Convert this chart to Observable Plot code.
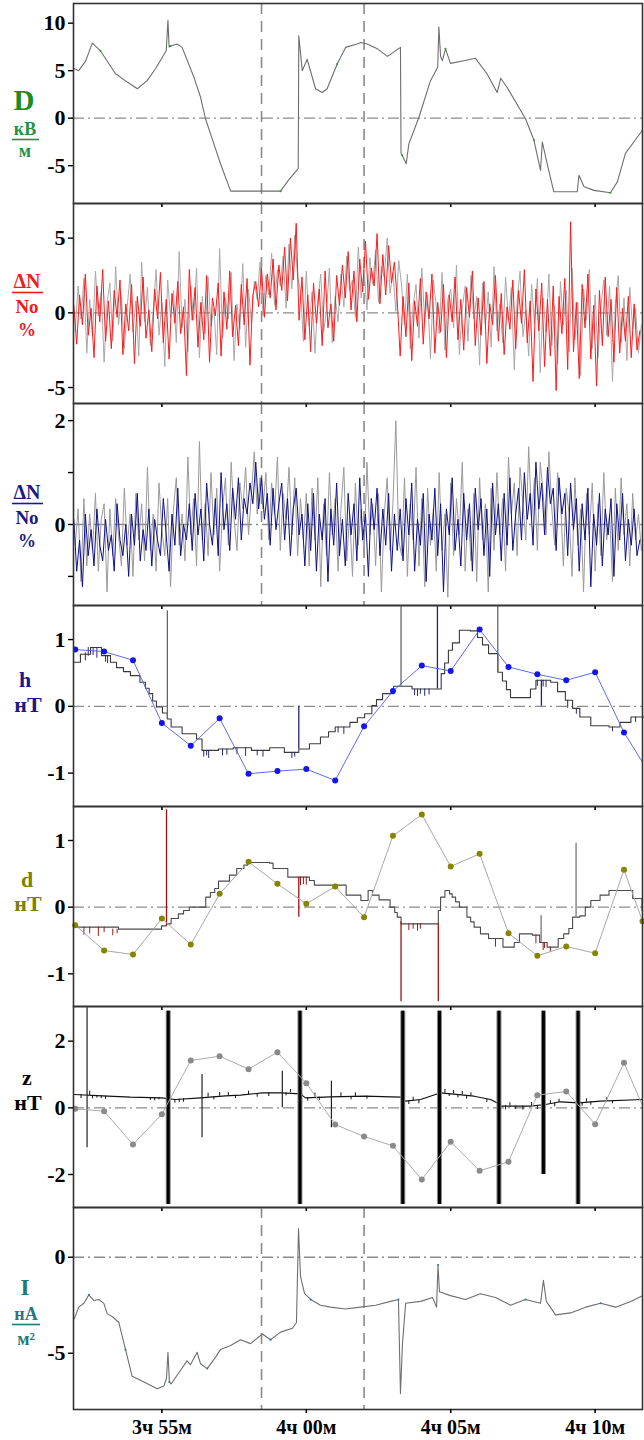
<!DOCTYPE html>
<html><head><meta charset="utf-8">
<script src="https://cdn.jsdelivr.net/npm/d3@7"></script>
<script src="https://cdn.jsdelivr.net/npm/@observablehq/plot@0.6"></script>
<style>
body{margin:0;background:#fff;}
#wrap{position:relative;width:644px;height:1440px;overflow:hidden;background:#fff;}
#labels{position:absolute;left:0;top:0;}
</style></head><body><div id="wrap"></div>
<script>
// ---- time axis (minutes after 3h) ----
const xDomain = [51.94, 71.64];
const xTicks = [55, 60, 65, 70];
const xTickLabels = ["3ч 55м", "4ч 00м", "4ч 05м", "4ч 10м"];
const dashedTimes = [58.45, 62.0];

// ---- D, кВ/м ----
const dT = [51.975,52.12,52.36,52.59,52.87,53.39,53.80,54.15,54.49,54.78,55.15,55.21,55.25,55.30,55.53,55.70,56.11,56.34,56.51,56.80,57.03,57.38,59.11,59.39,59.72,59.74,59.86,60.03,60.32,60.55,60.72,61.07,61.36,61.76,61.88,62.11,62.46,62.81,63.26,63.28,63.32,63.46,63.55,63.90,64.30,64.55,64.59,64.65,64.71,64.82,64.99,65.45,65.86,66.26,66.61,66.73,66.96,67.59,67.88,68.11,68.17,68.34,68.57,69.38,69.44,69.61,69.96,70.53,70.77,71.05,71.63];
const dV = [5.2,5.0,6.0,7.9,7.1,4.7,3.8,3.1,3.95,5.2,7.1,10.3,7.5,7.6,7.8,7.45,4.3,2.2,-0.06,-2.7,-4.8,-7.68,-7.68,-6.5,-5.3,8.67,5.0,6.2,3.1,2.7,3.1,5.7,7.45,7.8,7.97,7.8,7.3,6.5,7.45,-3.7,-3.9,-4.8,-2.7,0.1,3.95,5.35,9.6,6.5,6.05,7.3,5.77,6.05,6.3,4.65,2.7,4.2,3.2,-0.06,-2.3,-5.5,-2.5,-4.8,-7.75,-7.75,-6.0,-7.2,-7.6,-7.85,-6.7,-3.7,-1.3];

// ---- ΔN/No (red panel), %, sampled every 0.1 min from 51.95 ----
const dnRed = [0.5,-2.1,1.2,-0.8,2.6,-1.5,0.3,-3.0,1.8,-0.6,2.9,-1.9,0.8,-2.4,1.5,-0.3,2.2,-2.8,0.6,-1.2,1.9,-3.4,1.1,-0.9,2.4,-1.7,0.2,-2.6,1.6,-0.4,2.7,-2.0,0.9,-3.1,1.3,-0.7,2.1,-1.4,0.4,-4.2,2.9,-0.5,1.7,-2.3,0.7,-1.8,2.5,-3.3,1.0,-0.2,2.0,-2.9,1.4,-1.1,2.8,-1.6,0.5,-2.2,1.9,-0.8,2.3,-3.5,1.2,
 2.1,0.4,3.0,-0.3,2.6,1.0,3.6,0.2,3.2,1.5,4.4,0.8,5.0,2.2,6.0,
 -0.5,2.4,-1.8,1.2,-2.6,2.0,-0.7,1.6,-2.2,2.8,-1.0,0.6,-1.9,2.5,
 0.5,3.2,1.0,4.1,0.2,2.8,-0.6,3.6,1.4,4.8,0.9,3.0,1.8,5.3,0.6,3.9,1.2,4.5,2.0,3.4,0.8,
 -2.9,1.1,-1.6,2.0,-3.2,0.8,-0.9,2.3,-2.1,1.4,-0.4,2.6,-2.7,0.7,-1.3,1.9,-3.0,1.2,-0.6,2.4,-1.8,0.9,-2.5,1.7,-0.3,2.8,-2.2,1.0,-1.5,2.1,-3.4,0.6,-0.8,2.5,-1.9,1.3,-2.8,0.4,-1.1,2.2,-2.4,1.5,-0.7,2.9,-2.0,0.8,-4.6,1.6,-1.2,2.0,-3.6,0.9,-2.9,1.8,-5.2,1.1,-1.4,2.3,-3.8,6.1,-2.6,0.7,-4.4,1.9,-1.0,2.6,-3.1,0.5,-4.9,1.5,-2.2,2.4,-1.6,0.9,-3.3,1.7,-2.7,0.3,-1.9,1.1,-3.0,0.6,-2.5,-1.2];
const dnRedGrey = [-1.2,1.8,-0.4,2.3,-2.7,0.9,-1.6,2.8,-0.2,1.4,-3.3,0.6,2.0,-1.9,3.1,-0.8,1.2,-2.4,0.4,2.6,-1.3,0.8,-2.9,3.4,-0.6,1.7,-2.2,0.1,2.9,-1.5,0.7,-3.6,2.2,-0.3,1.5,-2.0,4.1,-1.0,0.9,-2.6,1.8,-0.5,3.0,-3.0,1.1,-1.4,2.4,-0.9,0.3,-2.8,4.3,-1.7,1.0,-0.4,2.7,-3.2,0.6,-1.1,3.3,-2.3,1.6,-0.7,2.1,
 0.9,3.4,-0.2,2.5,1.2,4.0,0.5,2.9,1.8,3.8,0.3,4.6,1.6,5.2,2.4,
 1.5,-1.9,2.8,-0.9,1.4,-2.7,0.8,2.6,-1.3,0.2,3.0,-2.0,1.1,-0.6,
 2.6,0.4,3.8,1.5,2.2,-0.3,4.4,1.0,2.9,0.2,3.7,1.9,4.2,0.7,3.1,2.4,5.0,1.3,2.7,0.1,3.5,
 1.8,-0.8,2.6,-2.4,0.5,1.9,-1.7,3.0,-0.6,1.2,-3.1,2.2,0.4,-1.4,2.7,-2.5,0.9,1.6,-1.0,3.2,-2.8,0.3,1.8,-1.9,2.5,-0.4,1.1,-3.5,2.0,-0.9,1.4,-2.3,3.1,-1.2,0.6,-2.0,2.4,-0.5,1.7,-3.8,0.8,2.8,-1.6,0.2,-2.9,1.9,-0.7,2.3,-4.0,1.0,-1.3,2.6,-2.2,0.5,-3.4,2.1,-0.8,1.5,-2.6,3.0,-1.8,0.7,-4.2,1.6,-0.5,2.9,-2.4,1.2,-3.0,0.4,2.2,-1.5,1.8,-4.6,0.6,2.5,-2.0,1.0,-3.2,1.7,-1.1,0.3,-2.7,-0.8];

// ---- ΔN/No (blue panel), % ----
const dnBlue = [0.1,-0.9,-0.3,-1.2,0.2,-0.6,-0.1,-0.8,0.3,-0.4,-0.7,0.1,-0.5,-0.2,-0.9,0.4,-0.3,-0.6,0.0,-1.0,0.2,-0.4,0.6,-0.7,-0.1,-0.5,0.3,-0.8,0.1,-0.3,-0.6,0.5,-0.2,-0.9,0.2,-0.4,0.7,-0.6,0.0,-0.3,0.4,
 -0.5,0.6,-0.2,0.3,-0.7,0.8,0.0,-0.4,0.5,-0.6,1.0,-0.1,0.4,-0.5,0.7,0.1,0.9,-0.3,0.5,0.2,0.8,0.4,1.2,0.3,
 0.9,0.1,0.6,-0.4,0.7,-0.1,0.4,0.8,-0.3,0.5,-0.6,0.3,0.7,-0.2,0.2,-0.8,
 0.4,-0.5,0.6,-0.9,0.2,-0.3,0.5,-1.1,0.3,-0.4,0.8,-0.6,0.1,-0.8,0.6,-0.2,0.4,-0.7,0.9,-0.3,0.2,-1.0,0.5,-0.1,0.7,-0.6,0.3,-0.4,0.6,-0.9,0.2,-0.5,
 0.3,-0.7,0.5,-0.2,0.8,-0.9,0.1,-0.4,0.6,-1.1,0.2,-0.3,0.7,-0.6,0.4,-1.3,0.3,-0.2,0.9,-0.5,0.1,-0.8,0.6,-0.3,0.4,-0.9,0.7,-0.1,0.5,-0.6,0.3,-1.0,0.8,-0.2,0.4,-0.7,0.6,-0.4,0.9,-0.5,0.2,0.7,-0.3,1.0,0.1,0.6,-0.4,1.2,0.3,0.8,-0.2,1.1,0.4,0.7,-0.5,0.9,0.2,0.6,-0.6,0.8,-0.1,0.5,-0.9,0.4,-0.3,0.7,-1.2,0.2,-0.4,0.6,-0.8,0.3,-0.2,0.5,-1.0,0.4,-0.3,0.6,-0.7,0.1,-0.4,0.3,-0.6,-0.3];
const dnBlueGrey = [-0.4,0.3,-1.1,0.5,-0.8,0.2,-0.5,0.6,-0.9,0.1,0.4,-1.3,0.3,-0.6,0.5,-0.2,-0.8,0.7,-0.4,0.2,-1.0,0.6,-0.3,0.4,-0.7,1.1,-0.5,0.2,-0.9,0.8,-0.1,-0.6,0.5,-1.2,0.3,0.9,-0.4,0.2,-0.7,1.3,-0.2,
 0.5,-0.8,1.6,-0.3,0.4,-0.6,1.0,-0.2,0.7,-0.9,0.3,0.9,-0.4,1.2,0.1,-0.5,0.8,0.3,1.1,-0.2,0.6,1.4,0.2,0.9,
 0.3,1.0,-0.3,0.8,0.2,1.3,-0.5,0.6,0.1,1.1,-0.2,0.9,-0.6,0.5,-0.3,0.6,
 -0.8,0.7,-0.3,0.9,-1.2,0.4,-0.6,1.0,-0.2,0.5,-0.9,0.3,1.1,-0.7,0.2,-1.0,0.8,-0.4,0.3,-0.6,1.2,-0.2,0.4,-0.8,0.6,-1.3,0.2,0.9,-0.5,0.4,2.0,-0.3,
 -0.6,0.9,-1.0,0.4,-0.3,1.1,-0.8,0.5,-1.2,0.7,-0.4,0.3,-0.9,1.0,-0.5,0.2,-1.4,0.8,-0.6,0.5,-0.2,1.2,-0.9,0.3,-0.7,0.6,-1.1,0.9,-0.3,0.4,-1.3,0.7,-0.5,1.0,-0.2,0.5,-0.9,1.3,0.2,0.8,-0.6,1.1,0.4,-0.3,1.5,0.1,0.9,-0.5,1.2,0.6,-0.2,1.4,0.3,-0.4,1.0,0.5,-0.8,0.7,0.2,-1.0,0.9,-0.4,0.3,-1.3,0.6,-0.2,0.8,-0.9,0.4,-0.6,1.0,-0.3,0.2,-1.1,0.7,-0.5,0.9,-0.2,0.4,-0.8,0.6,-0.3,0.2,-0.5];
const dnT0 = 51.95, dnStep = 0.1;

// ---- h, нТ ----
const hStepT = [51.97,52.18,52.53,52.91,53.22,53.43,53.67,53.91,54.24,54.43,54.56,54.68,54.81,55.02,55.19,55.32,55.70,56.20,56.39,56.96,57.47,58.10,58.73,59.24,59.74,60.11,60.49,60.77,61.00,61.51,61.77,62.02,62.27,62.43,62.64,63.02,63.66,64.42,64.67,64.79,64.92,65.06,65.30,65.68,65.93,66.10,66.31,66.63,66.79,66.93,67.07,67.58,67.76,67.95,68.46,68.70,68.97,69.22,69.47,69.85,70.48,70.86,71.24,71.68];
const hStepV = [0.66,0.78,0.88,0.76,0.66,0.58,0.52,0.46,0.36,0.27,0.19,0.08,-0.01,-0.10,-0.19,-0.31,-0.41,-0.49,-0.66,-0.64,-0.62,-0.66,-0.62,-0.69,-0.64,-0.56,-0.46,-0.38,-0.31,-0.24,-0.17,-0.11,0.01,0.10,0.19,0.30,0.26,0.26,0.49,0.65,0.84,0.95,1.14,1.13,1.03,0.92,0.79,0.51,0.38,0.25,0.13,0.13,0.26,0.39,0.36,0.22,0.09,-0.03,-0.16,-0.29,-0.31,-0.24,-0.16,-0.16];
const hDotT = [52,53,54,55,56,57,58,59,60,61,62,63,64,65,66,67,68,69,70,71,72];
const hDotV = [0.85,0.82,0.69,-0.25,-0.59,-0.18,-1.01,-0.97,-0.94,-1.11,-0.30,0.23,0.61,0.53,1.15,0.59,0.48,0.39,0.51,-0.39,-1.09];
const hSpikeT = [55.19,59.74,63.28,64.54,66.63,68.14];
const hSpikeA = [-0.19,-0.64,0.30,0.26,0.51,0.39];
const hSpikeB = [1.43,0.0,1.5,1.5,1.5,0.0];
// small comb dips on the h staircase
const hCombT = [52.35,52.45,52.62,52.75,53.05,53.12,56.45,56.55,56.62,57.10,57.25,57.60,57.90,58.30,58.50,59.50,59.60,61.10,61.30,63.75,63.85,63.95,64.10,64.25,68.00,68.20,68.30,69.05,69.35,70.60,71.40];
const hCombA = [0.80,0.88,0.88,0.88,0.76,0.76,-0.66,-0.66,-0.66,-0.64,-0.64,-0.62,-0.62,-0.66,-0.66,-0.69,-0.69,-0.31,-0.31,0.26,0.26,0.26,0.26,0.26,0.39,0.39,0.39,0.09,-0.03,-0.31,-0.16];
const hCombB = [0.68,0.75,0.76,0.72,0.66,0.64,-0.76,-0.74,-0.78,-0.74,-0.73,-0.72,-0.75,-0.74,-0.76,-0.78,-0.76,-0.40,-0.42,0.16,0.15,0.18,0.15,0.17,0.30,0.29,0.28,-0.03,-0.12,-0.38,-0.24];

// ---- d, нТ ----
const dStepT = [51.97,53.5,54.99,55.16,55.32,55.57,55.75,55.95,56.52,56.68,56.83,56.96,57.34,57.59,57.84,57.97,58.73,58.85,59.36,60.11,60.28,61.00,61.38,61.89,62.14,62.29,62.52,62.90,63.06,63.15,63.28,64.42,64.57,64.65,64.80,64.96,65.05,65.17,65.30,65.56,65.69,65.81,66.03,66.31,66.81,67.20,67.38,67.83,68.08,68.34,68.72,68.91,69.09,69.22,69.47,69.66,69.85,70.17,70.48,71.12,71.30,71.62];
const dStepV = [-0.30,-0.33,-0.28,-0.25,-0.17,-0.10,-0.05,0.0,0.15,0.22,0.28,0.39,0.48,0.58,0.63,0.67,0.66,0.58,0.45,0.40,0.33,0.33,0.18,0.10,0.25,0.18,0.11,0.0,-0.08,-0.15,-0.25,-0.25,-0.05,0.15,0.25,0.20,0.15,0.08,0.0,-0.15,-0.22,-0.30,-0.40,-0.47,-0.60,-0.53,-0.40,-0.42,-0.53,-0.60,-0.47,-0.40,-0.32,-0.15,-0.13,0.0,0.10,0.18,0.25,0.25,0.13,-0.05];
const dDotT = [52,53,54,55,56,57,58,59,60,61,62,63,64,65,66,67,68,69,70,71,71.64];
const dDotV = [-0.27,-0.65,-0.71,-0.17,-0.56,0.20,0.68,0.35,0.05,0.31,-0.15,1.07,1.39,0.61,0.80,-0.39,-0.73,-0.59,-0.69,0.56,-0.21];
const dSpikeT = [55.16,59.74,63.28,64.57,68.13,69.34];
const dSpikeA = [-0.28,0.45,-0.22,-0.25,-0.53,-0.15];
const dSpikeB = [1.46,-0.15,-1.42,-1.42,-0.13,0.96];
const dCombT = [52.30,52.50,52.80,53.00,53.30,53.45,59.80,59.90,60.00,63.55,63.70,63.85,63.95,66.55,67.95,68.20,68.25,68.45];
const dCombA = [-0.30,-0.30,-0.30,-0.30,-0.33,-0.33,0.45,0.45,0.45,-0.25,-0.25,-0.25,-0.25,-0.60,-0.42,-0.53,-0.53,-0.60];
const dCombB = [-0.42,-0.40,-0.44,-0.38,-0.43,-0.40,0.32,0.34,0.33,-0.35,-0.33,-0.36,-0.33,-0.48,-0.55,-0.65,-0.62,-0.68];

// ---- z, нТ ----
const zBaseT = [51.97,52.94,53.91,54.99,55.47,56.34,57.20,57.72,58.48,59.14,59.80,59.97,60.84,62.02,63.26,63.44,63.96,64.65,65.81,66.38,66.66,66.73,67.76,68.28,68.80,69.43,70.19,71.64];
const zBaseV = [0.40,0.36,0.32,0.30,0.25,0.30,0.36,0.38,0.45,0.45,0.42,0.30,0.33,0.35,0.32,0.20,0.25,0.45,0.35,0.25,0.12,0.05,0.05,0.10,0.18,0.15,0.20,0.25];
const zDotT = [52,53,54,55,56,57,58,59,60,61,62,63,64,65,66,67,68,69,70,71,72];
const zDotV = [-0.03,-0.10,-1.10,-0.19,1.42,1.55,1.16,1.67,0.74,-0.50,-0.86,-1.14,-2.15,-1.02,-1.89,-1.62,0.38,0.49,-0.49,1.35,-0.65];
const zBurstT = [55.22,59.78,63.34,64.61,66.67,68.21,69.41];
const zBurstLo = [-2.9,-2.9,-2.9,-2.9,-2.9,-2.0,-2.9];
const zBurstHi = [2.9,2.9,2.9,2.9,2.9,2.9,2.9];
const zSpikeT = [52.41,56.39,59.17,60.87];
const zSpikeA = [-1.2,-0.9,0.0,-0.6];
const zSpikeB = [3.0,1.0,1.1,0.8];
const zCombT = [52.20,52.50,52.60,52.75,52.90,53.05,54.60,54.75,54.90,55.45,55.60,55.75,56.60,56.80,57.00,57.30,57.55,58.00,58.30,58.70,59.30,59.45,60.05,60.30,60.45,61.20,61.55,61.70,62.10,63.55,63.70,63.90,64.80,64.95,65.10,65.25,65.40,65.55,65.70,66.25,66.90,67.05,67.25,67.50,67.80,68.00,68.45,68.60,68.75,69.55,69.70,69.85,70.40,70.60];
const zCombA = [0.39,0.37,0.37,0.37,0.36,0.35,0.30,0.30,0.30,0.25,0.26,0.27,0.32,0.33,0.35,0.36,0.37,0.40,0.42,0.45,0.45,0.45,0.31,0.32,0.32,0.34,0.34,0.34,0.35,0.21,0.22,0.24,0.44,0.43,0.42,0.40,0.39,0.37,0.36,0.26,0.06,0.05,0.05,0.05,0.05,0.06,0.12,0.14,0.16,0.16,0.17,0.18,0.21,0.22];
const zCombB = [0.28,0.50,0.27,0.29,0.28,0.25,0.22,0.21,0.24,0.14,0.16,0.17,0.44,0.24,0.46,0.46,0.28,0.50,0.32,0.34,0.36,0.55,0.20,0.44,0.22,0.45,0.24,0.45,0.26,0.10,0.32,0.12,0.55,0.34,0.52,0.30,0.49,0.26,0.45,0.16,-0.06,0.15,-0.05,-0.07,0.16,-0.05,0.22,0.03,0.26,0.05,0.27,0.08,0.30,0.12];

// ---- I, нА/м² ----
const iT = [51.97,52.12,52.30,52.47,52.64,52.82,52.99,53.11,53.29,53.51,53.74,53.97,54.38,54.84,55.07,55.16,55.21,55.26,55.32,55.64,55.87,55.99,56.22,56.34,56.57,56.86,57.03,57.38,57.72,58.07,58.48,58.76,59.11,59.52,59.66,59.73,59.80,59.94,60.15,60.49,60.84,61.36,61.88,62.40,62.92,63.19,63.26,63.33,63.44,63.96,64.37,64.51,64.56,64.61,64.99,65.51,66.03,66.55,67.07,67.59,68.11,68.21,68.31,68.63,69.15,69.67,70.19,70.71,71.23,71.64];
const iV = [-3.2,-2.6,-2.4,-1.96,-2.25,-2.2,-2.4,-2.95,-3.1,-3.4,-4.8,-6.2,-6.5,-6.85,-6.7,-6.3,-4.95,-6.5,-6.6,-5.9,-5.4,-5.6,-4.95,-5.55,-5.8,-5.2,-4.8,-4.6,-4.3,-4.5,-4.0,-4.3,-3.9,-3.7,-3.4,1.5,-1.0,-1.9,-2.2,-2.5,-2.6,-2.7,-2.6,-2.5,-2.3,-2.2,-7.1,-4.5,-2.4,-2.3,-2.1,-2.6,-0.4,-1.8,-2.0,-2.2,-1.9,-2.1,-2.5,-2.2,-2.4,-1.2,-2.3,-3.0,-2.9,-2.6,-2.4,-2.6,-2.3,-2.0];

// ---------- helpers ----------
const zip = (ts, vs) => ts.map((t, i) => ({t, v: vs[i]}));
const seq = (vs, t0, dt) => vs.map((v, i) => ({t: t0 + i * dt, v}));
const spikes = (ts, as, bs) => ts.map((t, i) => ({t, a: as[i], b: bs[i]}));

const wrap = document.getElementById("wrap");
const FONT = "'Liberation Serif', 'Times New Roman', serif";

function panel({top, bottom, domain, ticks, tickFmt, marks, dashed, last}) {
  const mt = 2, mb = last ? 40 : 2;
  const svg = Plot.plot({
    width: 644, height: bottom - top + mt + mb,
    marginLeft: 73, marginRight: 2, marginTop: mt, marginBottom: mb,
    x: {domain: xDomain},
    y: {domain: domain},
    style: {background: "transparent", overflow: "visible", fontFamily: FONT, fontSize: "22px", fontWeight: "bold", color: "#000"},
    marks: [
      Plot.ruleY([0], {stroke: "#8c8c8c", strokeWidth: 1.3, strokeDasharray: "11,4,2,4"}),
      dashed ? Plot.ruleX(dashedTimes, {stroke: "#8a8a8a", strokeWidth: 1.6, strokeDasharray: "11,7"}) : null,
      ...marks,
      Plot.frame({stroke: "#333", strokeWidth: 1.6}),
      Plot.axisY({ticks, tickSize: 5, tickPadding: 3, tickFormat: tickFmt || (d => String(d)), label: null, fontSize: 22, fontWeight: "bold", strokeWidth: 1.4}),
      Plot.axisX({ticks: xTicks, tickSize: 4, tickPadding: 6, label: null, strokeWidth: 1.6,
        tickFormat: last ? (d => xTickLabels[xTicks.indexOf(d)]) : (() => ""), fontSize: 20, fontWeight: "bold"})
    ]
  });
  svg.style.position = "absolute";
  svg.style.left = "0px";
  svg.style.top = (top - mt) + "px";
  wrap.appendChild(svg);
}

// Panel 1: D
panel({top: 3, bottom: 203, domain: [-8.98, 12.07], ticks: [10, 5, 0, -5], dashed: true, marks: [
  Plot.line(zip(dT, dV), {x: "t", y: "v", stroke: "#6e6e6e", strokeWidth: 1.1}),
  Plot.dot(zip(dT, dV).filter((d, i) => i % 9 === 4), {x: "t", y: "v", r: 1, fill: "#1f9a1f", stroke: null})
]});

// Panel 2: ΔN red
panel({top: 203, bottom: 403, domain: [-6.07, 7.32], ticks: [5, 0, -5], dashed: true, marks: [
  Plot.line(seq(dnRedGrey, dnT0 + 0.05, dnStep), {x: "t", y: "v", stroke: "#a9a9a9", strokeWidth: 1}),
  Plot.line(seq(dnRed, dnT0, dnStep), {x: "t", y: "v", stroke: "#ff1a1a", strokeWidth: 1})
]});

// Panel 3: ΔN blue
panel({top: 403, bottom: 605, domain: [-1.56, 2.33], ticks: [2, 1, 0, -1], tickFmt: d => (d === 2 || d === 0) ? String(d) : "", dashed: true, marks: [
  Plot.line(seq(dnBlueGrey, dnT0 + 0.05, dnStep), {x: "t", y: "v", stroke: "#9a9a9a", strokeWidth: 1}),
  Plot.line(seq(dnBlue, dnT0, dnStep), {x: "t", y: "v", stroke: "#10108a", strokeWidth: 1})
]});

// Panel 4: h
panel({top: 605, bottom: 806, domain: [-1.50, 1.51], ticks: [1, 0, -1], marks: [
  Plot.line(zip(hStepT, hStepV), {x: "t", y: "v", curve: "step-after", stroke: "#3a3a3a", strokeWidth: 1.1}),
  Plot.ruleX(spikes(hCombT, hCombA, hCombB), {x: "t", y1: "a", y2: "b", stroke: "#2a2a6a", strokeWidth: 1}),
  Plot.ruleX(spikes(hSpikeT, hSpikeA, hSpikeB), {x: "t", y1: "a", y2: "b", stroke: (d, i) => i % 2 ? "#22227a" : "#666", strokeWidth: 1.3, clip: true}),
  Plot.line(zip(hDotT, hDotV), {x: "t", y: "v", stroke: "#4a5ee0", strokeWidth: 0.9, clip: true}),
  Plot.dot(zip(hDotT, hDotV), {x: "t", y: "v", r: 3, fill: "#1414f0", stroke: null, clip: true})
]});

// Panel 5: d
panel({top: 806, bottom: 1006, domain: [-1.49, 1.51], ticks: [1, 0, -1], marks: [
  Plot.line(zip(dStepT, dStepV), {x: "t", y: "v", curve: "step-after", stroke: "#4a4a4a", strokeWidth: 1.1}),
  Plot.ruleX(spikes(dCombT, dCombA, dCombB), {x: "t", y1: "a", y2: "b", stroke: "#9a1a1a", strokeWidth: 1}),
  Plot.ruleX(spikes(dSpikeT, dSpikeA, dSpikeB), {x: "t", y1: "a", y2: "b", stroke: (d, i) => i < 4 ? "#a01010" : "#777", strokeWidth: 1.3, clip: true}),
  Plot.line(zip(dDotT, dDotV), {x: "t", y: "v", stroke: "#a8a8a8", strokeWidth: 1}),
  Plot.dot(zip(dDotT, dDotV), {x: "t", y: "v", r: 3, fill: "#858500", stroke: null})
]});

// Panel 6: z
panel({top: 1006, bottom: 1207, domain: [-2.99, 3.04], ticks: [2, 0, -2], marks: [
  Plot.line(zip(zBaseT, zBaseV), {x: "t", y: "v", stroke: "#111", strokeWidth: 1.1}),
  Plot.ruleX(spikes(zCombT, zCombA, zCombB), {x: "t", y1: "a", y2: "b", stroke: "#111", strokeWidth: 1}),
  Plot.ruleX(spikes(zSpikeT, zSpikeA, zSpikeB), {x: "t", y1: "a", y2: "b", stroke: "#222", strokeWidth: 1.2}),
  Plot.ruleX(spikes(zBurstT, zBurstLo, zBurstHi), {x: "t", y1: "a", y2: "b", stroke: "#888", strokeWidth: 5}),
  Plot.ruleX(spikes(zBurstT, zBurstLo, zBurstHi), {x: "t", y1: "a", y2: "b", stroke: "#000", strokeWidth: 3}),
  Plot.line(zip(zDotT, zDotV), {x: "t", y: "v", stroke: "#ababab", strokeWidth: 1, clip: true}),
  Plot.dot(zip(zDotT, zDotV), {x: "t", y: "v", r: 3, fill: "#8a8a8a", stroke: null, clip: true})
]});

// Panel 7: I
panel({top: 1207, bottom: 1409, domain: [-7.93, 2.59], ticks: [0, -5], dashed: true, last: true, marks: [
  Plot.line(zip(iT, iV), {x: "t", y: "v", stroke: "#6f6f6f", strokeWidth: 1.1}),
  Plot.dot(zip(iT, iV).filter((d, i) => i % 7 === 3), {x: "t", y: "v", r: 1, fill: "#1e8080", stroke: null})
]});

// ---------- left-hand quantity labels ----------
const NS = "http://www.w3.org/2000/svg";
const lab = document.createElementNS(NS, "svg");
lab.setAttribute("id", "labels");
lab.setAttribute("width", 72); lab.setAttribute("height", 1440);
lab.style.fontFamily = FONT; lab.style.fontWeight = "bold";
wrap.appendChild(lab);
function txt(s, x, y, size, color) {
  const t = document.createElementNS(NS, "text");
  t.setAttribute("x", x); t.setAttribute("y", y); t.setAttribute("text-anchor", "middle");
  t.setAttribute("font-size", size); t.setAttribute("fill", color);
  t.textContent = s; lab.appendChild(t);
}
function bar(x1, x2, y, color) {
  const l = document.createElementNS(NS, "line");
  l.setAttribute("x1", x1); l.setAttribute("x2", x2); l.setAttribute("y1", y); l.setAttribute("y2", y);
  l.setAttribute("stroke", color); l.setAttribute("stroke-width", 1.6); lab.appendChild(l);
}
const cGreen = "#1c8c1c", cGreen2 = "#2e8b46", cRed = "#ee1c1c", cNavy = "#1a1a80", cOlive = "#808000", cTeal = "#1e7b7b";
txt("D", 24, 110, 29, cGreen);
txt("кВ", 25, 135, 18, cGreen2); bar(12, 39, 139.5, cGreen2); txt("м", 25, 157, 18, cGreen2);
txt("ΔN", 27, 288, 20, cRed); bar(12, 43, 292.5, cRed); txt("No", 27, 313, 19, cRed); txt("%", 27, 336, 18, cRed);
txt("ΔN", 27, 499, 20, cNavy); bar(12, 43, 503.5, cNavy); txt("No", 27, 524, 19, cNavy); txt("%", 27, 547, 18, cNavy);
txt("h", 25, 687, 22, cNavy); txt("нТ", 28, 712, 22, cNavy);
txt("d", 27, 887, 22, cOlive); txt("нТ", 28, 911, 22, cOlive);
txt("z", 27, 1085, 22, "#000"); txt("нТ", 28, 1110, 22, "#000");
txt("I", 25, 1295, 24, cTeal);
txt("нА", 26, 1320, 18, cTeal); bar(12, 40, 1324.5, cTeal); txt("м²", 26, 1345, 18, cTeal);
</script></body></html>
